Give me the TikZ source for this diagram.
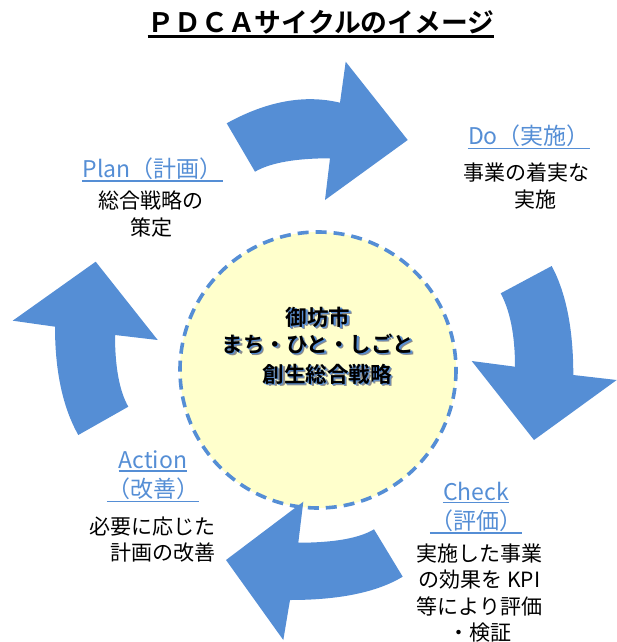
\documentclass[tikz,border=0pt]{standalone}
\usepackage{fontspec}
\setmainfont{Noto Sans CJK JP}[BoldFont={Noto Sans CJK JP Bold}]
\definecolor{pblue}{RGB}{85,142,213}
\definecolor{pyellow}{RGB}{255,255,204}
\definecolor{sgray}{RGB}{140,140,140}
\tikzset{arw/.style = {fill=pblue}}
\tikzset{lbl/.style = {pblue, inner sep=0, anchor=base, font=\fontsize{23}{28}\selectfont}}
\tikzset{txt/.style = {inner sep=0, align=center, font=\fontsize{21}{26.5}\selectfont}}
\tikzset{uline/.style = {pblue, line width=1.5pt}}
\tikzset{ctr/.style = {inner sep=0, align=center, font=\bfseries\fontsize{21.5}{27}\selectfont}}
\newcommand{\glowtxt}[1]{\rlap{\kern2.5pt\raisebox{-2.5pt}{\textcolor{sgray}{#1}}}%
  \rlap{\kern1.3pt\raisebox{-1.3pt}{\textcolor{pblue}{#1}}}#1}

\begin{document}
\begin{tikzpicture}[x=1pt, y=-1pt]
  \useasboundingbox (0,0) rectangle (617,642);

  \node[inner sep=0, anchor=base, font=\bfseries\fontsize{26.8}{30}\selectfont] (title) at (321,32.5) {ＰＤＣＡサイクルのイメージ};
  \draw [line width=2.5pt] ([yshift=-4pt]title.base west) -- ([yshift=-4pt]title.base east);

  \draw [pblue, fill=pyellow, line width=3.6pt, dash pattern=on 11pt off 7pt] (318,370) circle [radius=138];
  \node[ctr] (strategy) at (318,347) {\glowtxt{御坊市}\\\glowtxt{まち・ひと・しごと}\\[3pt]\hspace*{18pt}\glowtxt{創生総合戦略}};

  \fill [arw] (226.7,123.3) .. controls (266.9,101.1) and (304.7,94.2) .. (340,102.7) -- (345.7,61.7)
    -- (407.7,140) -- (325,200) -- (330,158.3) .. controls (295.3,158.3) and (270.3,162.8) .. (255,171.7) -- cycle;
  \fill [arw] (551.7,266) .. controls (566.1,292.9) and (573.3,329.3) .. (573.3,375) -- (616.7,380)
    -- (534,440) -- (471.7,361) -- (515,366.7) .. controls (515,335.6) and (510.2,311.1) .. (500.7,293.3) -- cycle;
  \fill [arw] (402.7,576.7) .. controls (377,592.2) and (339.5,600) .. (290,600) -- (283.3,640)
    -- (226,560) -- (303.3,501.7) -- (298.3,542.7) .. controls (334,542.7) and (359.3,538.2) .. (374,529.3) -- cycle;
  \fill [arw] (78.3,435) .. controls (62.8,407.5) and (55,371.4) .. (55,326.7) -- (12.7,320.7)
    -- (95.7,261.7) -- (157.7,340) -- (115,335) .. controls (115,367.1) and (119.4,391) .. (128.3,406.7) -- cycle;

  \node[lbl] (plan) at (152.5,177) {Plan（計画）};
  \draw [uline] ([yshift=-4pt]plan.base west) -- ([yshift=-4pt]plan.base east);
  \node[txt] (plantxt) at (151,214) {総合戦略の\\策定};

  \node[lbl] (do) at (529,144.5) {Do（実施）};
  \draw [uline] ([yshift=-4pt]do.base west) -- ([yshift=-4pt]do.base east);
  \node[txt] (dotxt) at (526,186) {事業の着実な\\\hspace*{18pt}実施};

  \node[lbl] (check) at (476,500) {Check};
  \draw [uline] ([yshift=-2.5pt]check.base west) -- ([yshift=-2.5pt]check.base east);
  \node[lbl] (eval) at (476,529) {（評価）};
  \draw [uline] ([yshift=-4pt]eval.base west) -- ([yshift=-4pt]eval.base east);
  \node[txt] (checktxt) at (479.5,593) {実施した事業\\の効果を KPI\\等により評価\\・検証};

  \node[lbl] (act) at (153,468) {Action};
  \draw [uline] ([yshift=-3pt]act.base west) -- ([yshift=-3pt]act.base east);
  \node[lbl] (impr) at (153,497) {（改善）};
  \draw [uline] ([yshift=-4.5pt]impr.base west) -- ([yshift=-4.5pt]impr.base east);
  \node[txt, align=right, anchor=east] (acttxt) at (216,539.5) {必要に応じた\\計画の改善};
\end{tikzpicture}
\end{document}
